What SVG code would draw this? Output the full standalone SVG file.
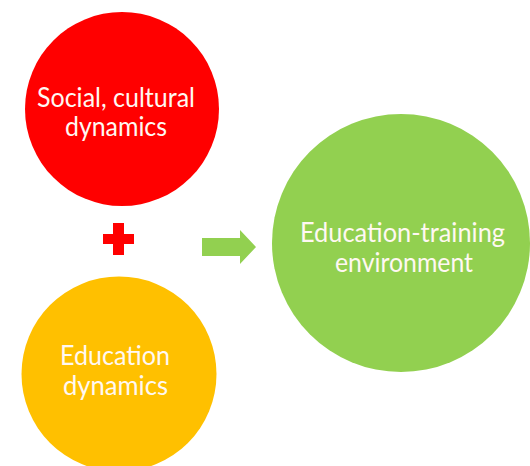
<svg xmlns="http://www.w3.org/2000/svg" width="530" height="466" viewBox="0 0 530 466">
  <style>
    .lbl { font-family: Lato, "Liberation Sans", Arial, sans-serif; font-size: 26px; fill: #fff8f2; text-anchor: middle; }
  </style>
  <rect width="530" height="466" fill="#ffffff"/>
  <g id="node-social">
    <circle cx="122" cy="109" r="97" fill="#ff0000"/>
    <text class="lbl" x="116" y="107" textLength="158" lengthAdjust="spacingAndGlyphs">Social, cultural</text>
    <text class="lbl" x="116" y="136" textLength="102" lengthAdjust="spacingAndGlyphs">dynamics</text>
  </g>
  <g id="node-education">
    <circle cx="119" cy="374" r="97.5" fill="#ffc000"/>
    <text class="lbl" x="115" y="365" textLength="110" lengthAdjust="spacingAndGlyphs">Education</text>
    <text class="lbl" x="115.5" y="395" textLength="105" lengthAdjust="spacingAndGlyphs">dynamics</text>
  </g>
  <g id="node-environment">
    <circle cx="401" cy="243" r="129" fill="#92d050"/>
    <text class="lbl" x="402.5" y="242" textLength="205" lengthAdjust="spacingAndGlyphs">Education-training</text>
    <text class="lbl" x="404" y="272" textLength="138" lengthAdjust="spacingAndGlyphs">environment</text>
  </g>
  <g id="connectors">
    <path d="M113,223 H124 V234 H134 V244 H124 V255 H113 V244 H103 V234 H113 Z" fill="#ff0000"/>
    <path d="M202,238 H240 V230 L256,247 L240,264 V256 H202 Z" fill="#92d050"/>
  </g>
</svg>
